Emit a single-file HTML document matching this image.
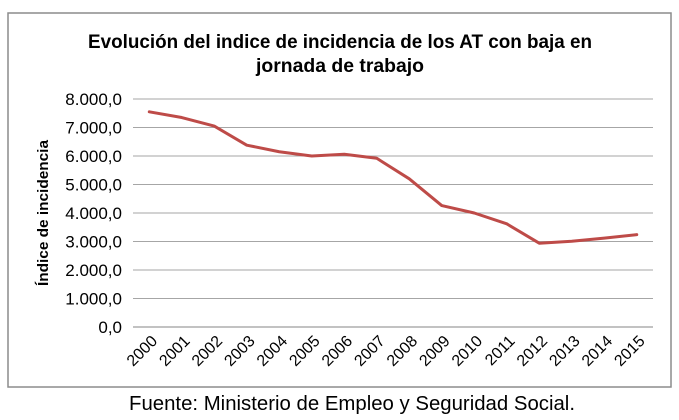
<!DOCTYPE html>
<html><head><meta charset="utf-8"><style>
body{margin:0;background:#fff;}
svg{display:block;font-family:"Liberation Sans",sans-serif;}
</style></head><body>
<svg id="chart" width="679" height="420" viewBox="0 0 679 420" xmlns="http://www.w3.org/2000/svg">
<rect x="8" y="13" width="663" height="374" fill="#fff" stroke="#8c8c8c" stroke-width="1.5"/>
<text x="340" y="48" text-anchor="middle" font-size="19" font-weight="bold" textLength="504" lengthAdjust="spacingAndGlyphs" fill="#000">Evolución del indice de incidencia de los AT con baja en</text>
<text x="340" y="72" text-anchor="middle" font-size="19" font-weight="bold" textLength="168" lengthAdjust="spacingAndGlyphs" fill="#000">jornada de trabajo</text>
<g id="grid"></g>
<g id="yticks"></g>
<g id="xticks"></g>
<g id="series"></g>
<text transform="translate(48,213) rotate(-90)" text-anchor="middle" font-size="15" font-weight="bold" textLength="146" lengthAdjust="spacingAndGlyphs" fill="#000">Índice de incidencia</text>
<text x="352" y="410" text-anchor="middle" font-size="20" textLength="446" lengthAdjust="spacingAndGlyphs" fill="#000">Fuente: Ministerio de Empleo y Seguridad Social.</text>
</svg>
<script>
const years=["2000","2001","2002","2003","2004","2005","2006","2007","2008","2009","2010","2011","2012","2013","2014","2015"];
const values=[7550,7350,7050,6380,6150,6000,6060,5920,5200,4260,4000,3620,2940,3010,3120,3240];
const yTicks=[0,1000,2000,3000,4000,5000,6000,7000,8000];
const yTickLabels=["0,0","1.000,0","2.000,0","3.000,0","4.000,0","5.000,0","6.000,0","7.000,0","8.000,0"];
const NS="http://www.w3.org/2000/svg";
const L=133,R=653,T=99,B=327;
const yMax=8000;
function y(v){return B-(v/yMax)*(B-T);}
function x(i){return L+(i+0.5)*(R-L)/years.length;}
function mk(tag,attrs){const e=document.createElementNS(NS,tag);for(const k in attrs)e.setAttribute(k,attrs[k]);return e;}
const grid=document.getElementById('grid'),yt=document.getElementById('yticks'),xt=document.getElementById('xticks'),ser=document.getElementById('series');
yTicks.forEach((v,i)=>{
  const ln=mk('line',{x1:L,x2:R,y1:y(v),y2:y(v),stroke:i===0?'#868686':'#a6a6a6','stroke-width':1});
  
  
  grid.appendChild(ln);
  const t=mk('text',{x:122,y:y(v)+6,'text-anchor':'end','font-size':17,fill:'#000'});
  t.textContent=yTickLabels[i];
  
  
  yt.appendChild(t);
});
years.forEach((yr,i)=>{
  const t=mk('text',{transform:`translate(${x(i)+9},${B+15}) rotate(-45)`,'text-anchor':'end','font-size':16,fill:'#000'});
  t.textContent=yr;
  
  
  xt.appendChild(t);
});
const pts=values.map((v,i)=>x(i)+','+y(v)).join(' ');
const pl=mk('polyline',{points:pts,fill:'none',stroke:'#be4b48','stroke-width':3,'stroke-linejoin':'round','stroke-linecap':'round'});


ser.appendChild(pl);
</script>
</body></html>
